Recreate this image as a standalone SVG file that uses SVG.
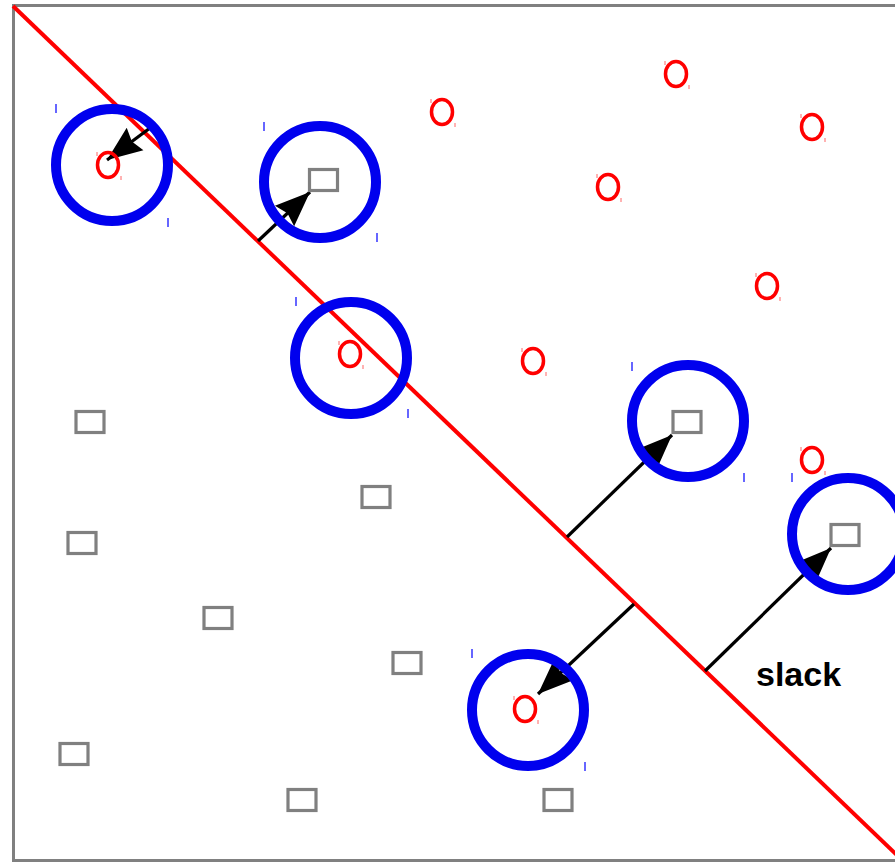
<svg xmlns="http://www.w3.org/2000/svg" width="895" height="862" viewBox="0 0 895 862">
<style>
.frame{fill:none;stroke:#808080;stroke-width:3}
.sep{stroke:#ff0000;stroke-width:4;fill:none}
.sv{fill:none;stroke:#0000ee;stroke-width:10}
.tick{stroke:#3333ff;stroke-width:1.5}
.rtick{stroke:#ff6666;stroke-width:1}
.pos{fill:none;stroke:#ff0000;stroke-width:3.5}
.neg{fill:none;stroke:#808080;stroke-width:3.2}
.arr{stroke:#000;stroke-width:3.2;fill:none;marker-end:url(#ah)}
.lbl{font-family:"Liberation Sans",Arial,sans-serif;font-weight:bold;font-size:34px;fill:#000}
</style>
<defs>
<marker id="ah" markerUnits="userSpaceOnUse" viewBox="0 0 36 28" markerWidth="36" markerHeight="28" refX="35" refY="14" orient="auto" overflow="visible">
<path d="M0,0 L35,14 L0,28 L4,14 Z" fill="#000"/>
</marker>
</defs>
<rect class="frame" x="13.5" y="5.5" width="900" height="855"/>
<g id="connectors">
<line class="sep" x1="13" y1="6" x2="900" y2="858"/>
<line class="arr" x1="150" y1="128" x2="107" y2="160"/>
<line class="arr" x1="258" y1="241" x2="310" y2="192"/>
<line class="arr" x1="567" y1="537" x2="672" y2="435"/>
<line class="arr" x1="634" y1="604" x2="538" y2="694"/>
<line class="arr" x1="705" y1="671" x2="831" y2="548"/>
</g>
<g id="sv1"><circle class="sv" cx="112" cy="165" r="56"/><line class="tick" x1="56" y1="104" x2="56" y2="113"/><line class="tick" x1="168" y1="218" x2="168" y2="227"/></g>
<g id="sv2"><circle class="sv" cx="320" cy="182" r="56"/><line class="tick" x1="264" y1="122" x2="264" y2="131"/><line class="tick" x1="377" y1="233" x2="377" y2="242"/></g>
<g id="sv3"><circle class="sv" cx="351" cy="358" r="56"/><line class="tick" x1="296" y1="297" x2="296" y2="306"/><line class="tick" x1="408" y1="409" x2="408" y2="418"/></g>
<g id="sv4"><circle class="sv" cx="688" cy="421" r="56"/><line class="tick" x1="632" y1="362" x2="632" y2="371"/><line class="tick" x1="744" y1="473" x2="744" y2="482"/></g>
<g id="sv5"><circle class="sv" cx="848" cy="534" r="56"/><line class="tick" x1="792" y1="473" x2="792" y2="482"/></g>
<g id="sv6"><circle class="sv" cx="528" cy="710" r="56"/><line class="tick" x1="472" y1="649" x2="472" y2="658"/><line class="tick" x1="585" y1="762" x2="585" y2="771"/></g>
<g id="p1"><ellipse class="pos" cx="108" cy="165" rx="10.5" ry="12.5"/><line class="rtick" x1="97" y1="152" x2="97" y2="156"/><line class="rtick" x1="121" y1="176" x2="121" y2="180"/></g>
<g id="p2"><ellipse class="pos" cx="442" cy="112" rx="10.5" ry="12.5"/><line class="rtick" x1="431" y1="99" x2="431" y2="103"/><line class="rtick" x1="455" y1="123" x2="455" y2="127"/></g>
<g id="p3"><ellipse class="pos" cx="676" cy="74" rx="10.5" ry="12.5"/><line class="rtick" x1="665" y1="61" x2="665" y2="65"/><line class="rtick" x1="689" y1="85" x2="689" y2="89"/></g>
<g id="p4"><ellipse class="pos" cx="812" cy="127" rx="10.5" ry="12.5"/><line class="rtick" x1="801" y1="114" x2="801" y2="118"/><line class="rtick" x1="825" y1="138" x2="825" y2="142"/></g>
<g id="p5"><ellipse class="pos" cx="608" cy="187" rx="10.5" ry="12.5"/><line class="rtick" x1="597" y1="174" x2="597" y2="178"/><line class="rtick" x1="621" y1="198" x2="621" y2="202"/></g>
<g id="p6"><ellipse class="pos" cx="767" cy="286" rx="10.5" ry="12.5"/><line class="rtick" x1="756" y1="273" x2="756" y2="277"/><line class="rtick" x1="780" y1="297" x2="780" y2="301"/></g>
<g id="p7"><ellipse class="pos" cx="350" cy="354" rx="10.5" ry="12.5"/><line class="rtick" x1="339" y1="341" x2="339" y2="345"/><line class="rtick" x1="363" y1="365" x2="363" y2="369"/></g>
<g id="p8"><ellipse class="pos" cx="533" cy="361" rx="10.5" ry="12.5"/><line class="rtick" x1="522" y1="348" x2="522" y2="352"/><line class="rtick" x1="546" y1="372" x2="546" y2="376"/></g>
<g id="p9"><ellipse class="pos" cx="812" cy="460" rx="10.5" ry="12.5"/><line class="rtick" x1="801" y1="447" x2="801" y2="451"/><line class="rtick" x1="825" y1="471" x2="825" y2="475"/></g>
<g id="p10"><ellipse class="pos" cx="525" cy="709" rx="10.5" ry="12.5"/><line class="rtick" x1="514" y1="696" x2="514" y2="700"/><line class="rtick" x1="538" y1="720" x2="538" y2="724"/></g>
<g id="n1"><rect class="neg" x="309.5" y="169.5" width="28" height="21"/></g>
<g id="n2"><rect class="neg" x="76" y="411.5" width="28" height="21"/></g>
<g id="n3"><rect class="neg" x="362" y="486.5" width="28" height="21"/></g>
<g id="n4"><rect class="neg" x="68" y="532.5" width="28" height="21"/></g>
<g id="n5"><rect class="neg" x="204" y="607.5" width="28" height="21"/></g>
<g id="n6"><rect class="neg" x="393" y="652.5" width="28" height="21"/></g>
<g id="n7"><rect class="neg" x="60" y="743.5" width="28" height="21"/></g>
<g id="n8"><rect class="neg" x="288" y="789.5" width="28" height="21"/></g>
<g id="n9"><rect class="neg" x="544" y="789.5" width="28" height="21"/></g>
<g id="n10"><rect class="neg" x="673" y="411.5" width="28" height="21"/></g>
<g id="n11"><rect class="neg" x="831" y="524.5" width="28" height="21"/></g>
<text class="lbl" x="756" y="686">slack</text>
</svg>
